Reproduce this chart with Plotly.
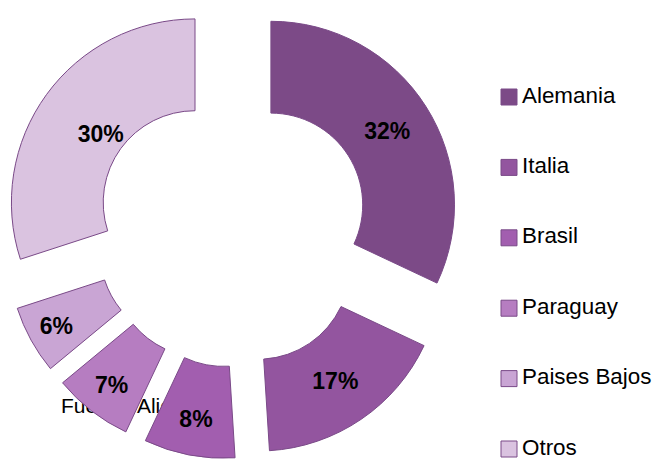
import plotly.graph_objects as go

countries = ["Alemania", "Italia", "Brasil", "Paraguay", "Paises Bajos", "Otros"]
shares = [32, 17, 8, 7, 6, 30]
colors = ["#7C4A87", "#93559F", "#A25EAF", "#B67DC1", "#C9A5D4", "#DAC3E0"]
source_note = "Fuente: AliceWeb."

FONT = "Liberation Sans, Arial, sans-serif"
EDGE = "#7A4A88"
LABEL = "<b>%{value}%</b>"
PIE_DOMAIN = dict(x=[0.004, 0.707], y=[0, 1])

fig = go.Figure()

# source note (drawn behind the pie, as in the original)
fig.add_trace(go.Scatter(
    x=[61], y=[408], mode="text", text=[source_note], textposition="middle right",
    textfont=dict(family=FONT, size=21, color="black"),
    xaxis="x", yaxis="y2", hoverinfo="skip", showlegend=False, cliponaxis=False,
))

# legend replica: markers + labels
fig.add_trace(go.Scatter(
    x=[509] * len(countries), y=countries, mode="markers",
    marker=dict(symbol="square", size=16, color=colors, line=dict(color=EDGE, width=1)),
    xaxis="x", yaxis="y", hoverinfo="skip", showlegend=False, cliponaxis=False,
))
fig.add_trace(go.Scatter(
    x=[522] * len(countries), y=countries, mode="text", text=countries,
    textposition="middle right",
    textfont=dict(family=FONT, size=22.4, color="black"),
    xaxis="x", yaxis="y", hoverinfo="skip", showlegend=False, cliponaxis=False,
))

# main exploded donut (last slice's label carried by the overlay below)
main_labels = [LABEL] * (len(countries) - 1) + [""]
fig.add_trace(go.Pie(
    labels=countries, values=shares, sort=False, direction="clockwise", rotation=0,
    hole=0.5, pull=0.25,
    marker=dict(colors=colors, line=dict(color=EDGE, width=1)),
    texttemplate=main_labels, textposition="inside",
    insidetextorientation="horizontal",
    textfont=dict(family=FONT, size=23, color="black"),
    domain=PIE_DOMAIN, showlegend=False, hoverinfo="label+percent",
))

# transparent overlay pie: places the "Otros" label closer to the hole, as in the original
overlay_labels = [""] * (len(countries) - 1) + [LABEL]
fig.add_trace(go.Pie(
    labels=countries, values=shares, sort=False, direction="clockwise", rotation=0,
    hole=0.27, pull=0.25,
    marker=dict(colors=["rgba(0,0,0,0)"] * len(countries), line=dict(width=0)),
    texttemplate=overlay_labels, textposition="inside",
    insidetextorientation="horizontal",
    textfont=dict(family=FONT, size=23, color="black"),
    domain=PIE_DOMAIN, showlegend=False, hoverinfo="skip",
))

fig.update_layout(
    width=653, height=459,
    margin=dict(l=0, r=0, t=0, b=0),
    paper_bgcolor="white", plot_bgcolor="rgba(0,0,0,0)",
    showlegend=False,
    uniformtext=dict(minsize=23, mode="show"),
    xaxis=dict(range=[0, 653], domain=[0, 1], visible=False, fixedrange=True),
    yaxis=dict(type="category", categoryorder="array", categoryarray=countries,
               range=[5.142, -1.378], domain=[0, 1], visible=False, fixedrange=True),
    yaxis2=dict(range=[459, 0], domain=[0, 1], overlaying="y", visible=False, fixedrange=True),
)

fig.write_html(
    "out.html",
    config={"displayModeBar": False},
    post_script="document.body.style.margin='0';document.body.style.overflow='hidden';",
)
